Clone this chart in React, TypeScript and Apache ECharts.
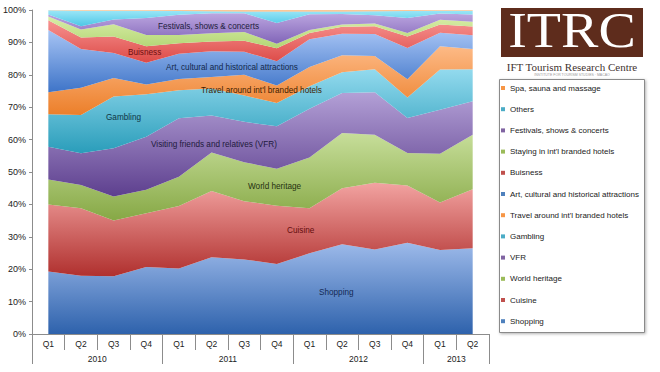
import React, { useEffect, useRef } from "react";
import * as echarts from "echarts";

// ---- categories / tick labels ----
const quarters = ["Q1", "Q2", "Q3", "Q4", "Q1", "Q2", "Q3", "Q4", "Q1", "Q2", "Q3", "Q4", "Q1", "Q2"];
const years = ["2010", "2011", "2012", "2013"];
const quartersPerYear = [4, 4, 4, 2];
const yTicks = { min: 0, max: 100, interval: 10 };

// ---- series values (share of total, %) ----
const shopping = [19.3, 18.0, 17.8, 20.7, 20.2, 23.7, 23.0, 21.6, 24.9, 27.7, 26.1, 28.2, 25.9, 26.5];
const cuisine = [20.7, 20.8, 17.2, 16.6, 19.3, 20.4, 18.0, 18.0, 13.9, 17.3, 20.6, 17.6, 14.7, 18.2];
const worldHeritage = [7.7, 7.2, 7.4, 7.2, 9.0, 11.9, 12.0, 11.4, 15.7, 17.0, 14.8, 10.1, 15.0, 16.8];
const vfr = [10.1, 9.8, 14.9, 16.4, 18.1, 11.4, 12.5, 13.1, 15.0, 12.4, 13.1, 10.8, 13.6, 10.3];
const gambling = [10.0, 11.8, 16.0, 13.1, 8.6, 8.4, 8.1, 7.2, 7.0, 6.4, 7.1, 6.3, 12.4, 9.9];
const travelHotels = [6.8, 8.4, 5.7, 3.0, 3.5, 3.5, 6.4, 5.4, 5.9, 5.2, 4.1, 5.6, 7.2, 6.3];
const artCulture = [19.2, 12.0, 7.7, 6.7, 7.8, 8.0, 7.1, 7.5, 8.6, 6.7, 6.8, 9.7, 4.2, 4.2];
const buisness = [3.0, 3.5, 5.1, 5.1, 3.2, 3.0, 3.4, 4.0, 1.9, 2.1, 2.4, 3.5, 2.5, 2.7];
const stayingHotels = [1.2, 2.5, 3.8, 3.5, 2.6, 2.5, 2.7, 1.4, 0.9, 0.7, 0.8, 1.1, 1.5, 1.5];
const festivals = [0.6, 1.0, 1.5, 5.2, 6.2, 6.2, 5.8, 6.4, 4.9, 3.3, 2.6, 4.6, 1.9, 2.2];
const others = [1.3, 4.8, 2.7, 2.3, 1.2, 0.6, 0.5, 3.5, 0.8, 0.7, 1.2, 2.2, 0.9, 1.2];
const spa = [0.1, 0.2, 0.2, 0.2, 0.3, 0.4, 0.5, 0.5, 0.5, 0.5, 0.4, 0.3, 0.2, 0.2];

const seriesNames = [
  "Shopping",
  "Cuisine",
  "World heritage",
  "VFR",
  "Gambling",
  "Travel around int'l branded hotels",
  "Art, cultural and historical attractions",
  "Buisness",
  "Staying in int'l branded hotels",
  "Festivals, shows & concerts",
  "Others",
  "Spa, sauna and massage",
];
const seriesValues = [
  shopping, cuisine, worldHeritage, vfr, gambling, travelHotels,
  artCulture, buisness, stayingHotels, festivals, others, spa,
];

const baseColors = [
  "#4F81BD", "#C0504D", "#9BBB59", "#8064A2", "#4BACC6", "#F79646",
  "#4F81BD", "#C0504D", "#9BBB59", "#8064A2", "#4BACC6", "#F79646",
];
const gradColors = [
  ["#9DBAEA", "#2E62AC"],
  ["#F2A3A1", "#B0302E"],
  ["#C7DE9A", "#86A845"],
  ["#B3A0D6", "#5D3F8E"],
  ["#93DAEE", "#2A9DBA"],
  ["#FDBA86", "#EC7F2A"],
  ["#A7C4F4", "#3E74C8"],
  ["#F79290", "#DC4A47"],
  ["#D8EDA7", "#B3D675"],
  ["#BCA6E0", "#8165B8"],
  ["#9CE6F7", "#4CC7E6"],
  ["#FCD2A8", "#F9B074"],
];

const FONT = "'Liberation Sans', Arial, sans-serif";
const SERIF = "'Liberation Serif', 'Times New Roman', serif";

const inChartLabels = [
  { text: "Festivals, shows & concerts", x: 158, y: 26, color: "#221c3c" },
  { text: "Buisness", x: 128, y: 52, color: "#6e0f0f" },
  { text: "Art, cultural and historical attractions", x: 166, y: 67, color: "#14284a" },
  { text: "Travel around int'l branded hotels", x: 201, y: 90, color: "#3e1c00" },
  { text: "Gambling", x: 106, y: 117, color: "#0f3545" },
  { text: "Visiting friends and relatives (VFR)", x: 151, y: 144, color: "#221a3c" },
  { text: "World heritage", x: 248, y: 186, color: "#253210" },
  { text: "Cuisine", x: 287, y: 230, color: "#640d0d" },
  { text: "Shopping", x: 319, y: 292, color: "#142a55" },
];

export default function App() {
  const ref = useRef<HTMLDivElement>(null);

  useEffect(() => {
    if (!ref.current) return;
    const chart = echarts.init(ref.current, undefined, { renderer: "svg" });

    // year-group axis: half-quarter slots so labels sit at group centres, ticks at group edges
    const slots = quarters.length * 2 + 1;
    const yearAxisData: string[] = new Array(slots).fill("");
    const yearTickIdx = new Set<number>([0]);
    const yearLabelIdx = new Set<number>();
    let start = 0;
    years.forEach((y, i) => {
      const n = quartersPerYear[i];
      const center = start * 2 + n;
      yearAxisData[center] = y;
      yearLabelIdx.add(center);
      start += n;
      yearTickIdx.add(start * 2);
    });

    const series = seriesNames.map((name, i) => ({
      name,
      type: "line",
      stack: "total",
      data: seriesValues[i],
      symbol: "none",
      showSymbol: false,
      lineStyle: { width: 0 },
      itemStyle: { color: baseColors[i] },
      areaStyle: {
        opacity: 1,
        color: new echarts.graphic.LinearGradient(0, 0, 0, 1, [
          { offset: 0, color: gradColors[i][0] },
          { offset: 1, color: gradColors[i][1] },
        ]),
      },
      emphasis: { disabled: true },
      xAxisIndex: 0,
      yAxisIndex: 0,
      z: 2,
    }));

    const axisGray = "#8c8c8c";

    chart.setOption({
      animation: false,
      backgroundColor: "#ffffff",
      textStyle: { fontFamily: FONT },
      grid: { left: 31, right: 171, top: 10, bottom: 38, containLabel: false },
      xAxis: [
        {
          type: "category",
          data: quarters,
          boundaryGap: true,
          position: "bottom",
          axisLine: { show: true, lineStyle: { color: axisGray, width: 1 } },
          axisTick: { show: true, length: 16, lineStyle: { color: axisGray } },
          axisLabel: { fontSize: 8.5, color: "#222", margin: 5, fontFamily: FONT, interval: 0 },
          splitLine: { show: false },
        },
        {
          type: "category",
          data: yearAxisData,
          boundaryGap: false,
          position: "bottom",
          axisLine: { show: false },
          axisTick: {
            show: true,
            length: 30,
            interval: (idx: number) => yearTickIdx.has(idx),
            lineStyle: { color: axisGray },
          },
          axisLabel: {
            fontSize: 8.5,
            color: "#222",
            margin: 20,
            fontFamily: FONT,
            interval: (idx: number) => yearLabelIdx.has(idx),
          },
          splitLine: { show: false },
        },
      ],
      yAxis: {
        type: "value",
        min: yTicks.min,
        max: yTicks.max,
        interval: yTicks.interval,
        axisLine: { show: true, lineStyle: { color: axisGray } },
        axisTick: { show: true, length: 3, lineStyle: { color: axisGray } },
        axisLabel: { formatter: "{value}%", fontSize: 9, color: "#222", margin: 6, fontFamily: FONT },
        splitLine: { show: false },
      },
      legend: {
        orient: "vertical",
        left: 501,
        top: 83,
        padding: 0,
        itemWidth: 4,
        itemHeight: 4,
        itemGap: 11.2,
        icon: "rect",
        selectedMode: false,
        data: [...seriesNames].reverse(),
        textStyle: { fontSize: 8, color: "#222", fontFamily: FONT, lineHeight: 10 },
        z: 10,
      },
      graphic: [
        {
          type: "rect",
          z: 1,
          shape: { x: 499.5, y: 79.5, width: 145, height: 253 },
          style: {
            fill: "#ffffff",
            stroke: "#8a8a8a",
            lineWidth: 1,
            shadowBlur: 3,
            shadowOffsetX: 1,
            shadowOffsetY: 1,
            shadowColor: "rgba(0,0,0,0.3)",
          },
        },
        {
          type: "rect",
          z: 1,
          shape: { x: 501, y: 8, width: 142, height: 49 },
          style: { fill: "#5e2c1c" },
        },
        {
          type: "text",
          z: 2,
          x: 572,
          y: 30,
          scaleX: 1.12,
          style: {
            text: "ITRC",
            fill: "#ffffff",
            font: `50px ${SERIF}`,
            align: "center",
            verticalAlign: "middle",
          },
        },
        {
          type: "text",
          z: 2,
          x: 572,
          y: 66.5,
          style: {
            text: "IFT Tourism Research Centre",
            fill: "#3f3330",
            font: `11px ${SERIF}`,
            align: "center",
            verticalAlign: "middle",
          },
        },
        {
          type: "text",
          z: 2,
          x: 572,
          y: 75,
          style: {
            text: "INSTITUTE FOR TOURISM STUDIES · MACAO",
            fill: "#9a9a9a",
            font: `3.5px ${FONT}`,
            align: "center",
            verticalAlign: "middle",
          },
        },
        ...inChartLabels.map((l) => ({
          type: "text",
          z: 100,
          x: l.x,
          y: l.y,
          style: {
            text: l.text,
            fill: l.color,
            font: `8.2px ${FONT}`,
            align: "left",
            verticalAlign: "middle",
          },
        })),
      ],
      series,
    });

    return () => chart.dispose();
  }, []);

  return (
    <div
      ref={ref}
      style={{ position: "fixed", left: 0, top: 0, width: 660, height: 372, background: "#fff" }}
    />
  );
}
